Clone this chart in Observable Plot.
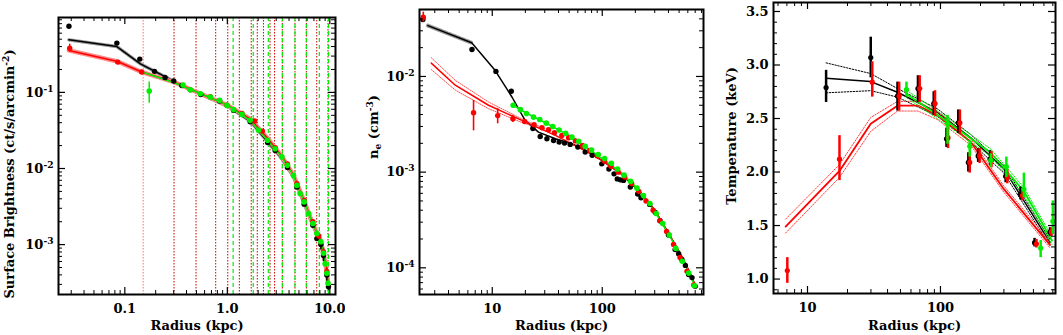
<!DOCTYPE html>
<html><head><meta charset="utf-8">
<script src="https://cdn.jsdelivr.net/npm/d3@7"></script>
<script src="https://cdn.jsdelivr.net/npm/@observablehq/plot@0.6"></script>
<style>
body{margin:0;background:#fff;}
#wrap{position:relative;width:1063px;height:335px;overflow:hidden;background:#fff;}
#wrap svg{position:absolute;top:0;}
</style></head><body><div id="wrap"></div>
<script>
// ---------- Panel 1: surface brightness ----------
const sbBlackR = [0.0285, 0.0836, 0.140, 0.195, 0.247, 0.30, 0.36, 0.55, 0.84, 1.15, 1.67, 2.47, 2.93, 3.86, 4.77, 5.62, 6.83, 7.47, 8.18, 8.68, 9.35, 9.7];
const sbBlackV = [0.74, 0.444, 0.274, 0.189, 0.157, 0.141, 0.123, 0.094, 0.077, 0.058, 0.041, 0.022, 0.0172, 0.0103, 0.0057, 0.0034, 0.0018, 0.0012, 0.0010, 0.00072, 0.00040, 0.00028];
const sbBlackLo = [0.72, 0.43, 0.265, 0.183, 0.152, 0.137, 0.12, 0.092, 0.075, 0.057, 0.040, 0.0215, 0.0168, 0.0100, 0.0055, 0.0033, 0.00172, 0.00110, 0.00085, 0.00060, 0.00033, 0.00025];
const sbBlackHi = [0.76, 0.46, 0.283, 0.195, 0.162, 0.145, 0.126, 0.096, 0.079, 0.059, 0.042, 0.0225, 0.0176, 0.0106, 0.0059, 0.0035, 0.00188, 0.00130, 0.00118, 0.00085, 0.00048, 0.00031];
const sbRedR = [0.029, 0.0853, 0.146, 0.436, 0.683, 0.99, 1.39, 1.85, 2.2, 2.93, 3.86, 4.77, 5.62, 6.83, 7.8, 8.68, 9.35];
const sbRedV = [0.38, 0.25, 0.185, 0.108, 0.088, 0.068, 0.053, 0.042, 0.031, 0.0188, 0.0115, 0.0063, 0.0038, 0.0020, 0.0013, 0.0008, 0.00044];
const sbRedLo = [0.34, 0.24, 0.178, 0.105, 0.086, 0.066, 0.052, 0.041, 0.030, 0.0183, 0.0111, 0.0060, 0.0036, 0.0019, 0.00118, 0.00070, 0.00038];
const sbRedHi = [0.43, 0.26, 0.192, 0.111, 0.090, 0.070, 0.054, 0.043, 0.032, 0.0193, 0.0119, 0.0066, 0.0040, 0.0021, 0.00142, 0.00090, 0.00050];
const sbGreenR = [0.173, 0.37, 0.436, 0.546, 0.683, 0.841, 0.993, 1.15, 1.39, 1.67, 2.02, 2.47, 2.93, 3.41, 3.86, 4.42, 4.77, 5.13, 5.62, 6.19, 6.83, 7.47, 8.18, 8.68, 9.0, 9.35, 9.6];
const sbGreenV = [0.104, 0.125, 0.108, 0.096, 0.0868, 0.0785, 0.0675, 0.0593, 0.0514, 0.0429, 0.0317, 0.0235, 0.0182, 0.0142, 0.0110, 0.0081, 0.0060, 0.0047, 0.00364, 0.00256, 0.00189, 0.00140, 0.00109, 0.00077, 0.00056, 0.00042, 0.00031];
const sbGreenErrR = [0.173];
const sbGreenErrLo = [0.072];
const sbGreenErrHi = [0.137];
const sbBlackFitR = [0.0285, 0.0836, 0.142, 0.30, 0.55, 1.0, 1.67, 2.47, 3.4, 4.4, 5.6, 6.8, 8.2, 9.0, 9.7];
const sbBlackFitV = [0.49, 0.40, 0.237, 0.14, 0.095, 0.066, 0.042, 0.0225, 0.0135, 0.0078, 0.0035, 0.0018, 0.00105, 0.00056, 0.00029];
const sbRedFitR = [0.0285, 0.085, 0.146, 0.30, 0.55, 1.0, 1.67, 2.47, 3.4, 4.4, 5.6, 6.8, 8.2, 9.0, 9.7];
const sbRedFitV = [0.356, 0.255, 0.185, 0.137, 0.096, 0.068, 0.045, 0.025, 0.0145, 0.0083, 0.0038, 0.0019, 0.0011, 0.0006, 0.0003];
const sbGreenFitR = [0.153, 0.30, 0.55, 1.0, 1.67, 2.47, 3.4, 4.4, 5.6, 6.8, 8.2, 9.0, 9.7];
const sbGreenFitV = [0.183, 0.135, 0.096, 0.068, 0.043, 0.0235, 0.0142, 0.0081, 0.0037, 0.0019, 0.0011, 0.00057, 0.0003];
const sbInnerShell = [0.151];
const sbRedShells = [0.302, 0.495, 0.770, 1.01, 1.31, 1.71, 1.96, 2.25, 2.61, 2.89, 3.44, 4.57, 5.9, 7.45, 9.6];
const sbGreenShells = [1.14, 1.79, 2.51, 3.44, 4.57, 5.9, 7.9, 9.7];
const sbXTicks = [0.1, 1, 10];
const sbXTickLabels = ["0.1", "1.0", "10.0"];
const sbXMinor = [0.03,0.04,0.05,0.06,0.07,0.08,0.09,0.2,0.3,0.4,0.5,0.6,0.7,0.8,0.9,2,3,4,5,6,7,8,9];
const sbYTicks = [1e-3, 1e-2, 1e-1];
const sbYTickLabels = ["10^{-3}", "10^{-2}", "10^{-1}"];
const sbYMinor = [3e-4,4e-4,5e-4,6e-4,7e-4,8e-4,9e-4,2e-3,3e-3,4e-3,5e-3,6e-3,7e-3,8e-3,9e-3,0.02,0.03,0.04,0.05,0.06,0.07,0.08,0.09,0.2,0.3,0.4,0.5,0.6,0.7,0.8,0.9];

// ---------- Panel 2: electron density ----------
const neBlackR = [2.34, 6.54, 10.8, 14.9, 23.4, 27.3, 31.4, 36.1, 40.6, 45.4, 51.1, 60, 70, 81, 99, 115, 128, 137, 146, 156, 180, 210, 225, 270, 303, 335, 400, 460, 495, 530, 570, 610, 655, 700];
const neBlackV = [0.0394, 0.0191, 0.0113, 0.0070, 0.00286, 0.00236, 0.00223, 0.00214, 0.00206, 0.00201, 0.00195, 0.00183, 0.00162, 0.00150, 0.00122, 0.00108, 0.00096, 0.00085, 0.00083, 0.00082, 0.00070, 0.00059, 0.00054, 0.00046, 0.00038, 0.00031, 0.00022, 0.000155, 0.00014, 0.000122, 0.000106, 0.000085, 0.000079, 0.000064];
const neRedR = [2.36, 6.76, 11.2, 15.4, 19.7, 24.0, 28.3, 32.5, 36.8, 42.9, 49.4, 57, 66, 77, 90, 105, 120, 140, 160, 185, 215, 250, 290, 335, 385, 445, 510, 590, 680];
const neRedV = [0.0417, 0.00418, 0.0039, 0.00361, 0.00338, 0.00313, 0.00291, 0.00277, 0.00258, 0.00242, 0.00229, 0.00212, 0.00190, 0.00168, 0.00148, 0.00130, 0.00115, 0.00100, 0.00089, 0.00076, 0.00063, 0.00050, 0.00040, 0.00031, 0.00024, 0.000175, 0.000128, 0.000092, 0.000066];
const neRedErrR = [2.36, 6.76, 11.2, 15.4];
const neRedErrLo = [0.037, 0.0027, 0.0032, 0.0033];
const neRedErrHi = [0.047, 0.0056, 0.0046, 0.0039];
const neGreenR = [15.5, 18.0, 20.5, 23.7, 27.0, 31.0, 35.5, 40.5, 46.5, 53.0, 61.0, 70.0, 80.0, 92.0, 105, 121, 138, 158, 181, 207, 237, 271, 310, 355, 407, 466, 534, 611, 690];
const neGreenV = [0.0050, 0.0045, 0.0041, 0.00376, 0.00355, 0.00325, 0.00300, 0.00275, 0.00255, 0.00232, 0.00210, 0.00186, 0.00170, 0.00153, 0.00139, 0.00124, 0.00108, 0.00093, 0.00080, 0.00068, 0.00057, 0.00047, 0.00037, 0.00029, 0.00022, 0.000160, 0.000117, 0.000088, 0.000065];
const neBlackFitR = [2.6, 6.5, 10.6, 15.1, 19.9, 26.3, 37.5, 53, 70, 100, 150, 220, 300, 400, 500, 600, 700];
const neBlackFitV = [0.034, 0.0225, 0.0116, 0.0061, 0.00347, 0.00262, 0.00223, 0.00198, 0.00170, 0.00132, 0.00095, 0.00062, 0.00040, 0.00023, 0.000148, 0.000098, 0.000066];
const neBlackHatchR = [2.6, 6.5];
const neBlackHatchV = [0.034, 0.0225];
const neRedFitR = [2.79, 4.61, 9.25, 18.6, 37.5, 75, 100, 150, 220, 300, 400, 500, 600, 700];
const neRedFitV = [0.0138, 0.0081, 0.0050, 0.00347, 0.00242, 0.00160, 0.00132, 0.00095, 0.00063, 0.00040, 0.00023, 0.000148, 0.000098, 0.000066];
const neRedBandR = [2.79, 4.61, 9.25, 18.6, 30];
const neRedBandUp = [0.0157, 0.0091, 0.0054, 0.0036, 0.00285];
const neRedBandDn = [0.0118, 0.0072, 0.0046, 0.0033, 0.00275];
const neGreenFitR = [15.5, 20, 30, 50, 70, 100, 150, 200, 300, 400, 500, 600, 700];
const neGreenFitV = [0.0050, 0.0042, 0.0033, 0.00242, 0.00186, 0.00138, 0.00098, 0.00071, 0.00039, 0.000225, 0.000145, 0.000095, 0.000064];
const neXTicks = [10, 100];
const neXTickLabels = ["10", "100"];
const neXMinor = [3,4,5,6,7,8,9,20,30,40,50,60,70,80,90,200,300,400,500,600,700,800];
const neYTicks = [1e-4, 1e-3, 1e-2];
const neYTickLabels = ["10^{-4}", "10^{-3}", "10^{-2}"];
const neYMinor = [6e-5,7e-5,8e-5,9e-5,2e-4,3e-4,4e-4,5e-4,6e-4,7e-4,8e-4,9e-4,2e-3,3e-3,4e-3,5e-3,6e-3,7e-3,8e-3,9e-3,0.02,0.03,0.04,0.05];

// ---------- Panel 3: temperature ----------
const tBlackR = [13.8, 29.9, 47.5, 67.7, 89, 111, 136, 162, 192, 236, 309, 400, 510, 667];
const tBlackV = [2.79, 3.07, 2.71, 2.78, 2.64, 2.31, 2.46, 2.09, 2.15, 2.12, 1.96, 1.79, 1.34, 1.44];
const tBlackLo = [2.65, 2.88, 2.57, 2.65, 2.53, 2.23, 2.36, 2.00, 2.09, 2.06, 1.90, 1.74, 1.30, 1.40];
const tBlackHi = [2.95, 3.26, 2.84, 2.90, 2.75, 2.41, 2.58, 2.18, 2.22, 2.20, 2.03, 1.86, 1.38, 1.48];
const tRedR = [7.05, 17.4, 30.7, 48.9, 69.8, 91, 114, 140, 166, 197, 242, 318, 413, 527, 683];
const tRedV = [1.08, 2.12, 2.84, 2.71, 2.78, 2.64, 2.32, 2.46, 2.09, 2.15, 2.11, 1.95, 1.78, 1.33, 1.44];
const tRedLo = [0.96, 1.92, 2.70, 2.57, 2.65, 2.52, 2.22, 2.35, 1.99, 2.08, 2.04, 1.89, 1.73, 1.29, 1.40];
const tRedHi = [1.20, 2.34, 3.03, 2.84, 2.90, 2.76, 2.42, 2.58, 2.18, 2.22, 2.19, 2.02, 1.84, 1.37, 1.48];
const tGreenR = [55.5, 113, 166, 239, 313, 424, 567, 700];
const tGreenV = [2.77, 2.45, 2.24, 2.11, 2.05, 1.84, 1.29, 1.54];
const tGreenLo = [2.70, 2.26, 2.14, 2.04, 1.95, 1.76, 1.20, 1.42];
const tGreenHi = [2.84, 2.53, 2.29, 2.17, 2.14, 1.99, 1.36, 1.73];
const tBlackFitR = [13.8, 29.9, 47.5, 95, 169, 300, 667];
const tBlackFitV = [2.876, 2.845, 2.745, 2.557, 2.32, 2.03, 1.34];
const tBlackFitUp = [3.02, 2.92, 2.78, 2.59, 2.35, 2.06, 1.37];
const tBlackFitDn = [2.74, 2.76, 2.70, 2.52, 2.28, 1.99, 1.31];
const tRedFitR = [6.85, 17.4, 29.9, 47.5, 67.7, 95, 169, 300, 667];
const tRedFitV = [1.49, 2.01, 2.45, 2.62, 2.62, 2.53, 2.28, 1.84, 1.32];
const tRedFitUp = [1.56, 2.07, 2.51, 2.66, 2.66, 2.56, 2.31, 1.87, 1.35];
const tRedFitDn = [1.43, 1.95, 2.38, 2.57, 2.57, 2.49, 2.25, 1.81, 1.29];
const tGreenFitR = [55.5, 113, 239, 424, 690];
const tGreenFitV = [2.73, 2.47, 2.18, 1.82, 1.36];
const tGreenFitUp = [2.765, 2.505, 2.215, 1.855, 1.395];
const tGreenFitDn = [2.695, 2.435, 2.145, 1.785, 1.325];
const tXTicks = [10, 100];
const tXTickLabels = ["10", "100"];
const tXMinor = [6,7,8,9,20,30,40,50,60,70,80,90,200,300,400,500,600,700];
const tYTicks = [1.0, 1.5, 2.0, 2.5, 3.0, 3.5];
const tYTickLabels = ["1.0", "1.5", "2.0", "2.5", "3.0", "3.5"];
const tYMinor = [0.9,1.1,1.2,1.3,1.4,1.6,1.7,1.8,1.9,2.1,2.2,2.3,2.4,2.6,2.7,2.8,2.9,3.1,3.2,3.3,3.4];

// ---------- helpers ----------
const FONT = "'DejaVu Serif', 'Liberation Serif', serif";
const RED = "#ff0000", GREEN = "#00ee00", BLACK = "#000000";
const rows = (R, V, lo, hi) => R.map((r, i) => ({r, v: V[i], lo: lo ? lo[i] : null, hi: hi ? hi[i] : null}));
const lbl = (ticks, labels) => { const m = new Map(ticks.map((t, i) => [t, labels[i]])); return d => m.get(d); };

function frameMarks(c) {
  const pw = c.width - c.marginLeft - c.marginRight, ph = 335 - c.marginTop - c.marginBottom;
  const MJ = 7, MN = 4;
  return [
    Plot.frame({stroke: "black", strokeWidth: 2}),
    Plot.tickX(c.xTicks, {x: d => d, insetTop: ph - MJ, strokeWidth: 1.2}),
    Plot.tickX(c.xTicks, {x: d => d, insetBottom: ph - MJ, strokeWidth: 1.2}),
    Plot.tickX(c.xMinor, {x: d => d, insetTop: ph - MN, strokeWidth: 1}),
    Plot.tickX(c.xMinor, {x: d => d, insetBottom: ph - MN, strokeWidth: 1}),
    Plot.tickY(c.yTicks, {y: d => d, insetRight: pw - MJ, strokeWidth: 1.2}),
    Plot.tickY(c.yTicks, {y: d => d, insetLeft: pw - MJ, strokeWidth: 1.2}),
    Plot.tickY(c.yMinor, {y: d => d, insetRight: pw - MN, strokeWidth: 1}),
    Plot.tickY(c.yMinor, {y: d => d, insetLeft: pw - MN, strokeWidth: 1}),
    Plot.axisX(c.xTicks, {anchor: "bottom", tickSize: 0, tickPadding: 9, tickFormat: lbl(c.xTicks, c.xLabels), label: null}),
    Plot.axisY(c.yTicks, {anchor: "left", tickSize: 0, tickPadding: 5, tickFormat: lbl(c.yTicks, c.yLabels), label: null}),
    Plot.text([c.xTitle], {text: d => d, frameAnchor: "bottom", textAnchor: "middle", lineAnchor: "middle", dy: c.xTitleDy, fontSize: 13}),
    Plot.text([c.yTitle], {text: d => d, frameAnchor: "left", textAnchor: "middle", lineAnchor: "middle", rotate: -90, dx: c.yTitleDx, dy: c.yTitleDy, fontSize: 13})
  ];
}

// turn "^{..}" / "_{..}" markers into raised / lowered tspans (real text)
function richify(svg) {
  svg.querySelectorAll("text").forEach(t => {
    const s = t.textContent;
    if (!/[\^_]\{/.test(s)) return;
    while (t.firstChild) t.removeChild(t.firstChild);
    const ns = "http://www.w3.org/2000/svg";
    const re = /([\^_])\{([^}]*)\}/g;
    let last = 0, m, shift = 0;
    const add = (str, kind) => {
      const sp = document.createElementNS(ns, "tspan");
      let target = kind === "^" ? -5 : kind === "_" ? 3 : 0;
      sp.setAttribute("dy", (target - shift) + "px");
      shift = target;
      if (kind) sp.setAttribute("font-size", "70%");
      sp.textContent = str;
      t.appendChild(sp);
    };
    while ((m = re.exec(s))) {
      if (m.index > last) add(s.slice(last, m.index), null);
      add(m[2], m[1]);
      last = re.lastIndex;
    }
    if (last < s.length) add(s.slice(last), null);
  });
}

function panel(c) {
  const svg = Plot.plot({
    width: c.width, height: 335,
    marginLeft: c.marginLeft, marginRight: c.marginRight, marginTop: c.marginTop, marginBottom: c.marginBottom,
    x: {type: "log", domain: c.xDomain},
    y: {type: c.yType, domain: c.yDomain},
    style: {fontFamily: FONT, fontSize: "13px", fontWeight: "bold", color: "black", background: "transparent"},
    marks: [...c.marks, ...frameMarks(c)]
  });
  svg.style.left = c.left + "px";
  richify(svg);
  document.getElementById("wrap").appendChild(svg);
}

const errBars = (data, stroke, w) => Plot.ruleX(data, {x: "r", y1: "lo", y2: "hi", stroke, strokeWidth: w, clip: true});
const dots = (data, fill, r) => Plot.dot(data, {x: "r", y: "v", r, fill, stroke: "none", clip: true});
const line = (R, V, stroke, w, dash) => Plot.line(rows(R, V), {x: "r", y: "v", stroke, strokeWidth: w, strokeDasharray: dash, clip: true});

// ---------- Panel 1 ----------
panel({
  left: 0, width: 345, marginLeft: 58, marginRight: 10, marginTop: 17, marginBottom: 41,
  xDomain: [0.02254, 11.36], yType: "log", yDomain: [2.21e-4, 0.964],
  xTicks: sbXTicks, xLabels: sbXTickLabels, xMinor: sbXMinor,
  yTicks: sbYTicks, yLabels: sbYTickLabels, yMinor: sbYMinor,
  xTitle: "Radius (kpc)", xTitleDy: 31,
  yTitle: "Surface Brightness (ct/s/arcmin^{-2})", yTitleDx: -49, yTitleDy: 18,
  marks: [
    Plot.ruleX(sbInnerShell, {x: d => d, stroke: "#ff7070", strokeWidth: 1, strokeDasharray: "1.5,1.5"}),
    Plot.ruleX(sbRedShells, {x: d => d, stroke: "#cc0000", strokeWidth: 1, strokeDasharray: "1.5,1.5"}),
    Plot.ruleX(sbGreenShells, {x: d => d, stroke: GREEN, strokeWidth: 1.2, strokeDasharray: "4,3"}),
    line(sbBlackFitR, sbBlackFitV, "#9a9a9a", 3.5, "0.8,1.6"),
    line(sbBlackFitR, sbBlackFitV, BLACK, 1.5),
    line(sbRedFitR, sbRedFitV, "#ff8a8a", 4.5, "0.8,1.6"),
    line(sbRedFitR, sbRedFitV, RED, 1.5),
    line(sbGreenFitR, sbGreenFitV, GREEN, 1.5),
    errBars(rows(sbBlackR, sbBlackV, sbBlackLo, sbBlackHi), BLACK, 1.5),
    dots(rows(sbBlackR, sbBlackV), BLACK, 2.7),
    errBars(rows(sbRedR, sbRedV, sbRedLo, sbRedHi), RED, 1.5),
    dots(rows(sbRedR, sbRedV), RED, 2.7),
    errBars(rows(sbGreenErrR, sbGreenErrR, sbGreenErrLo, sbGreenErrHi), GREEN, 1.5),
    dots(rows(sbGreenR, sbGreenV), GREEN, 2.8)
  ]
});

// ---------- Panel 2 ----------
panel({
  left: 355, width: 355, marginLeft: 64, marginRight: 7, marginTop: 9, marginBottom: 41,
  xDomain: [2.18, 833], yType: "log", yDomain: [5.26e-5, 0.0501],
  xTicks: neXTicks, xLabels: neXTickLabels, xMinor: neXMinor,
  yTicks: neYTicks, yLabels: neYTickLabels, yMinor: neYMinor,
  xTitle: "Radius (kpc)", xTitleDy: 31,
  yTitle: "n_{e} (cm^{-3})", yTitleDx: -46, yTitleDy: -25,
  marks: [
    line(neBlackHatchR, neBlackHatchV, "#999", 4, "0.8,1.6"),
    line(neBlackFitR, neBlackFitV, BLACK, 1.5),
    line(neRedBandR, neRedBandUp, "#ff5050", 1, "1.2,1.2"),
    line(neRedBandR, neRedBandDn, "#ff5050", 1, "1.2,1.2"),
    line(neRedFitR, neRedFitV, RED, 1.5),
    line(neGreenFitR, neGreenFitV, GREEN, 1.5),
    dots(rows(neBlackR, neBlackV), BLACK, 2.7),
    errBars(rows(neRedErrR, neRedErrR, neRedErrLo, neRedErrHi), RED, 1.6),
    dots(rows(neRedR, neRedV), RED, 2.7),
    dots(rows(neGreenR, neGreenV), GREEN, 2.8)
  ]
});

// ---------- Panel 3 ----------
panel({
  left: 712, width: 351, marginLeft: 61, marginRight: 8, marginTop: 2, marginBottom: 42,
  xDomain: [5.55, 733], yType: "linear", yDomain: [0.865, 3.584],
  xTicks: tXTicks, xLabels: tXTickLabels, xMinor: tXMinor,
  yTicks: tYTicks, yLabels: tYTickLabels, yMinor: tYMinor,
  xTitle: "Radius (kpc)", xTitleDy: 32,
  yTitle: "Temperature (keV)", yTitleDx: -42, yTitleDy: -12,
  marks: [
    line(tBlackFitR, tBlackFitUp, BLACK, 1, "1.5,1.5"),
    line(tBlackFitR, tBlackFitDn, BLACK, 1, "1.5,1.5"),
    line(tBlackFitR, tBlackFitV, BLACK, 1.5),
    line(tRedFitR, tRedFitUp, "#ff4040", 1, "1.5,1.5"),
    line(tRedFitR, tRedFitDn, "#ff4040", 1, "1.5,1.5"),
    line(tRedFitR, tRedFitV, RED, 1.8),
    line(tGreenFitR, tGreenFitUp, GREEN, 1, "1.5,1.5"),
    line(tGreenFitR, tGreenFitDn, GREEN, 1, "1.5,1.5"),
    line(tGreenFitR, tGreenFitV, GREEN, 1.8),
    errBars(rows(tBlackR, tBlackV, tBlackLo, tBlackHi), BLACK, 2.5),
    dots(rows(tBlackR, tBlackV), BLACK, 2.6),
    errBars(rows(tRedR, tRedV, tRedLo, tRedHi), RED, 2.5),
    dots(rows(tRedR, tRedV), RED, 2.6),
    errBars(rows(tGreenR, tGreenV, tGreenLo, tGreenHi), GREEN, 2.5),
    dots(rows(tGreenR, tGreenV), GREEN, 2.6)
  ]
});
</script></body></html>
